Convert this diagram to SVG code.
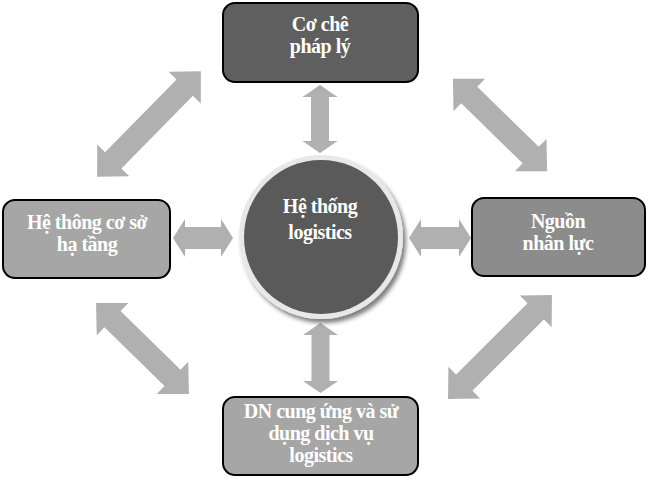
<svg xmlns="http://www.w3.org/2000/svg" width="648" height="480" viewBox="0 0 648 480">
  <defs>
    <style>
      .box { stroke: #000; stroke-width: 2; }
      .lbl { font-family: "Liberation Serif", "Times New Roman", serif; font-weight: bold; font-size: 20px; fill: #fff; text-anchor: middle; letter-spacing: -0.5px; }
      .arr { fill: #b0b0b0; }
    </style>
    <filter id="shadow" x="-20%" y="-20%" width="140%" height="140%">
      <feGaussianBlur in="SourceAlpha" stdDeviation="2"/>
      <feOffset dx="3" dy="4" result="b"/>
      <feFlood flood-color="#000" flood-opacity="0.5"/>
      <feComposite in2="b" operator="in"/>
      <feMerge><feMergeNode/><feMergeNode in="SourceGraphic"/></feMerge>
    </filter>
  </defs>
  <rect width="648" height="480" fill="#fff"/>

  <g id="connectors">
    <path class="arr" transform="translate(320,119) rotate(90)" d="M-34,0 L-22,-17.5 L-22,-9 L22,-9 L22,-17.5 L34,0 L22,17.5 L22,9 L-22,9 L-22,17.5 Z"/>
    <path class="arr" transform="translate(320.5,358) rotate(90)" d="M-35,0 L-23,-17.5 L-23,-9 L23,-9 L23,-17.5 L35,0 L23,17.5 L23,9 L-23,9 L-23,17.5 Z"/>
    <path class="arr" transform="translate(203,238)" d="M-30,0 L-18,-19 L-18,-11 L18,-11 L18,-19 L30,0 L18,19 L18,11 L-18,11 L-18,19 Z"/>
    <path class="arr" transform="translate(440,238)" d="M-31,0 L-19,-19 L-19,-11 L19,-11 L19,-19 L31,0 L19,19 L19,11 L-19,11 L-19,19 Z"/>
    <path class="arr" transform="translate(149,124) rotate(-45.5)" d="M-74,0 L-51,-22.5 L-51,-11.5 L51,-11.5 L51,-22.5 L74,0 L51,22.5 L51,11.5 L-51,11.5 L-51,22.5 Z"/>
    <path class="arr" transform="translate(500,125) rotate(44.4)" d="M-66,0 L-43,-22.5 L-43,-11.5 L43,-11.5 L43,-22.5 L66,0 L43,22.5 L43,11.5 L-43,11.5 L-43,22.5 Z"/>
    <path class="arr" transform="translate(142.5,348.5) rotate(44.4)" d="M-65,0 L-42,-22.5 L-42,-11.5 L42,-11.5 L42,-22.5 L65,0 L42,22.5 L42,11.5 L-42,11.5 L-42,22.5 Z"/>
    <path class="arr" transform="translate(500,347) rotate(-45)" d="M-73.5,0 L-50.5,-22.5 L-50.5,-11.5 L50.5,-11.5 L50.5,-22.5 L73.5,0 L50.5,22.5 L50.5,11.5 L-50.5,11.5 L-50.5,22.5 Z"/>
  </g>

  <g id="node-top">
    <rect class="box" x="223" y="3" width="195" height="79" rx="12" fill="#5f5f5f"/>
    <text class="lbl" x="320" y="31">Cơ chê</text>
    <text class="lbl" x="320" y="53">pháp lý</text>
  </g>

  <g id="node-left">
    <rect class="box" x="3" y="200" width="167" height="78" rx="12" fill="#a6a6a6"/>
    <text class="lbl" x="87" y="229">Hệ thông cơ sở</text>
    <text class="lbl" x="87" y="251">hạ tầng</text>
  </g>

  <g id="node-right">
    <rect class="box" x="472" y="198" width="173" height="78" rx="12" fill="#8c8c8c"/>
    <text class="lbl" x="558" y="228">Nguồn</text>
    <text class="lbl" x="558" y="250">nhân lực</text>
  </g>

  <g id="node-bottom">
    <rect class="box" x="223" y="397" width="195" height="78" rx="12" fill="#a6a6a6"/>
    <text class="lbl" x="321" y="418">DN cung ứng và sử</text>
    <text class="lbl" x="321" y="440">dụng dịch vụ</text>
    <text class="lbl" x="321" y="462">logistics</text>
  </g>

  <g id="node-center">
    <circle cx="321" cy="237" r="82" fill="#e8e8e8" filter="url(#shadow)"/>
    <circle cx="321" cy="237" r="77" fill="#5a5a5a"/>
    <text class="lbl" x="320" y="213">Hệ thống</text>
    <text class="lbl" x="320" y="239">logistics</text>
  </g>
</svg>
